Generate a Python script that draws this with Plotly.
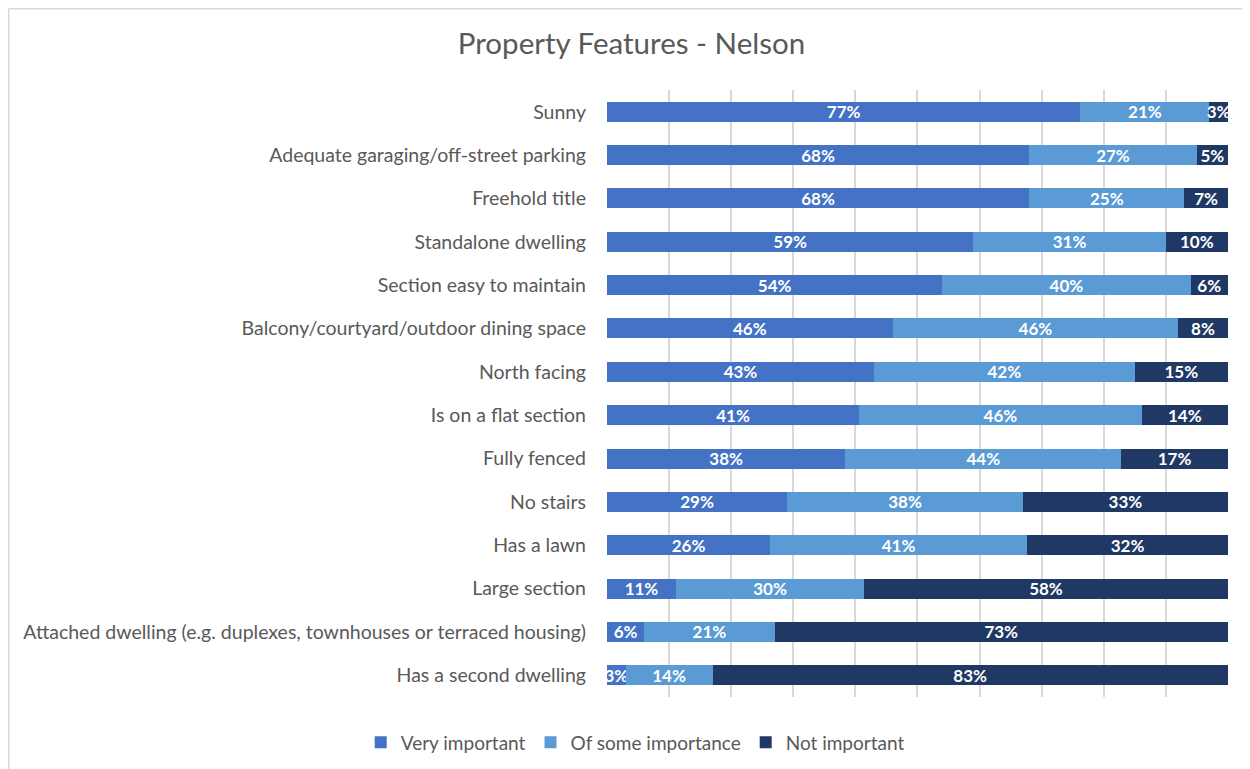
import plotly.graph_objects as go

features = [
    "Sunny",
    "Adequate garaging/off-street parking",
    "Freehold title",
    "Standalone dwelling",
    "Section easy to maintain",
    "Balcony/courtyard/outdoor dining space",
    "North facing",
    "Is on a flat section",
    "Fully fenced",
    "No stairs",
    "Has a lawn",
    "Large section",
    "Attached dwelling (e.g. duplexes, townhouses or terraced housing)",
    "Has a second dwelling",
]
very_important = [77, 68, 68, 59, 54, 46, 43, 41, 38, 29, 26, 11, 6, 3]
some_importance = [21, 27, 25, 31, 40, 46, 42, 46, 44, 38, 41, 30, 21, 14]
not_important = [3, 5, 7, 10, 6, 8, 15, 14, 17, 33, 32, 58, 73, 83]

series = [
    ("Very important", very_important, "#4472C4"),
    ("Of some importance", some_importance, "#5B9BD5"),
    ("Not important", not_important, "#203864"),
]

# page body has an 8px margin, so the figure is sized to fit inside the window
W, H = 1242, 761
ml, mr, mt, mb = 599, 22, 82, 72
FONT = "Lato"

fig = go.Figure()
for name, vals, col in series:
    fig.add_trace(go.Bar(
        y=features, x=vals, name=name, orientation="h",
        marker=dict(color=col, line=dict(width=0)),
        text=[f"{v}%" for v in vals],
        textposition="inside", insidetextanchor="middle", textangle=0,
        constraintext="none",
        textfont=dict(family=FONT, size=17, color="white", weight="bold"),
        cliponaxis=False,
    ))

# chart border (top and left edges)
pw, ph = W - ml - mr, H - mt - mb
x0 = (0.75 - ml) / pw
y_top = 1 + (mt - 0.75) / ph
y_bot = -(H - mt - ph) / ph
fig.add_shape(type="line", xref="paper", yref="paper", x0=x0, x1=(W - ml) / pw,
              y0=y_top, y1=y_top, line=dict(color="#D9D9D9", width=1.5))
fig.add_shape(type="line", xref="paper", yref="paper", x0=x0, x1=x0,
              y0=y_bot, y1=y_top, line=dict(color="#D9D9D9", width=1.5))

fig.update_layout(
    width=W, height=H,
    barmode="stack", barnorm="percent", bargap=0.54,
    margin=dict(l=ml, r=mr, t=mt, b=mb),
    paper_bgcolor="white", plot_bgcolor="white",
    title=dict(text="Property Features - Nelson", x=0.502, xref="container",
               xanchor="center", y=0.953, yref="container", yanchor="middle",
               font=dict(family=FONT, size=29.5, color="#595959")),
    legend=dict(orientation="h", x=0.505, xref="container", xanchor="center",
                y=0.035, yref="container", yanchor="middle",
                font=dict(family=FONT, size=19, color="#595959"),
                traceorder="normal"),
    uniformtext=dict(minsize=17, mode="show"),
    font=dict(family=FONT, color="#595959"),
)
fig.update_xaxes(range=[0, 100.02], tick0=0, dtick=10, showgrid=True, gridcolor="#D9D9D9",
                 gridwidth=2, showticklabels=False, zeroline=False, showline=False)
fig.update_yaxes(categoryorder="array", categoryarray=features, autorange="reversed",
                 tickfont=dict(family=FONT, size=19.5, color="#595959"),
                 ticks="", ticklabelstandoff=20, showline=False)

fig.write_html("out.html")
